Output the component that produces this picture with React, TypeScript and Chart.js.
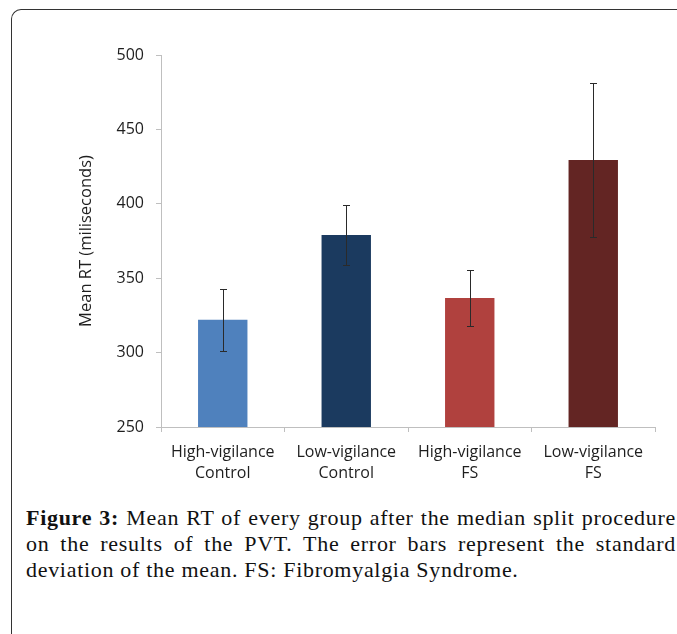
import React, { useEffect, useRef } from "react";
import { Chart, registerables } from "chart.js";

Chart.register(...registerables);

const categories: string[][] = [
  ["High-vigilance", "Control"],
  ["Low-vigilance", "Control"],
  ["High-vigilance", "FS"],
  ["Low-vigilance", "FS"],
];
const meanRT: number[] = [322, 379, 336.7, 429.5];
const sdRT: number[] = [21, 20, 18.5, 52];
const barColors: string[] = ["#4F81BD", "#1B3A5F", "#B0413E", "#632523"];
const yTicks: number[] = [250, 300, 350, 400, 450, 500];

const FONT = "'Open Sans', 'DejaVu Sans', sans-serif";

const errorBarPlugin = {
  id: "errorBars",
  afterDatasetsDraw(chart: any) {
    const meta = chart.getDatasetMeta(0);
    const y = chart.scales.y;
    const ctx = chart.ctx;
    ctx.save();
    ctx.strokeStyle = "#2a2a2a";
    ctx.lineWidth = 1;
    meta.data.forEach((bar: any, i: number) => {
      const x = Math.round(bar.x) + 0.5;
      const top = Math.round(y.getPixelForValue(meanRT[i] + sdRT[i])) + 0.5;
      const bot = Math.round(y.getPixelForValue(meanRT[i] - sdRT[i])) + 0.5;
      ctx.beginPath();
      ctx.moveTo(x, top);
      ctx.lineTo(x, bot);
      ctx.moveTo(x - 3.5, top);
      ctx.lineTo(x + 3.5, top);
      ctx.moveTo(x - 3.5, bot);
      ctx.lineTo(x + 3.5, bot);
      ctx.stroke();
    });
    ctx.restore();
  },
};

const lineStyle: React.CSSProperties = {
  textAlign: "justify",
  textAlignLast: "justify",
  whiteSpace: "nowrap",
  height: 26,
};

export default function App() {
  const ref = useRef<HTMLCanvasElement | null>(null);
  useEffect(() => {
    if (!ref.current) return;
    const chart = new Chart(ref.current, {
      type: "bar",
      data: {
        labels: categories,
        datasets: [
          {
            data: meanRT,
            backgroundColor: barColors,
            borderWidth: 0,
            barPercentage: 0.4,
            categoryPercentage: 1,
          },
        ],
      },
      options: {
        responsive: false,
        animation: false,
        maintainAspectRatio: false,
        layout: { padding: { left: 74, top: 55, right: 22, bottom: 0 } },
        plugins: { legend: { display: false }, tooltip: { enabled: false } },
        scales: {
          x: {
            offset: true,
            grid: {
              offset: true,
              drawOnChartArea: false,
              drawTicks: true,
              tickLength: 5,
              color: "#BFBFBF",
            },
            border: { display: true, color: "#BFBFBF", width: 1 },
            ticks: {
              color: "#1e1e1e",
              font: { family: FONT, size: 16, lineHeight: 1.32 },
              padding: 10,
              maxRotation: 0,
              autoSkip: false,
            },
            afterFit(scale: any) {
              scale.height = 63;
            },
          },
          y: {
            min: 250,
            max: 500,
            afterBuildTicks(scale: any) {
              scale.ticks = yTicks.map((v) => ({ value: v }));
            },
            grid: {
              drawOnChartArea: false,
              drawTicks: true,
              tickLength: 5,
              color: "#BFBFBF",
            },
            border: { display: true, color: "#BFBFBF", width: 1 },
            ticks: {
              color: "#1e1e1e",
              font: { family: FONT, size: 16 },
              padding: 12,
            },
            title: {
              display: true,
              text: "Mean RT (miliseconds)",
              color: "#1e1e1e",
              font: { family: FONT, size: 16.5 },
              padding: { top: 2, bottom: 0 },
            },
            afterFit(scale: any) {
              scale.width = 87;
            },
          },
        },
      },
      plugins: [errorBarPlugin],
    });
    return () => chart.destroy();
  }, []);

  return (
    <div
      style={{
        position: "fixed",
        left: 0,
        top: 0,
        width: 677,
        height: 634,
        overflow: "hidden",
        background: "#fff",
      }}
    >
      <div
        style={{
          position: "absolute",
          left: 11,
          top: 9,
          width: 720,
          height: 700,
          borderTop: "1.5px solid #333",
          borderLeft: "1.5px solid #333",
          borderTopLeftRadius: 10,
          boxSizing: "border-box",
        }}
      />
      <canvas
        ref={ref}
        width={677}
        height={490}
        style={{ position: "absolute", left: 0, top: 0, width: 677, height: 490 }}
      />
      <div
        style={{
          position: "absolute",
          left: 26,
          top: 505,
          width: 650,
          fontFamily: "'Liberation Serif', 'Times New Roman', serif",
          fontSize: 22,
          letterSpacing: 0.7,
          lineHeight: "26px",
          color: "#111",
        }}
      >
        <div style={lineStyle}>
          <b>Figure 3:</b> Mean RT of every group after the median split procedure
        </div>
        <div style={lineStyle}>
          on the results of the PVT. The error bars represent the standard
        </div>
        <div style={{ whiteSpace: "nowrap", height: 26 }}>
          deviation of the mean. FS: Fibromyalgia Syndrome.
        </div>
      </div>
    </div>
  );
}
